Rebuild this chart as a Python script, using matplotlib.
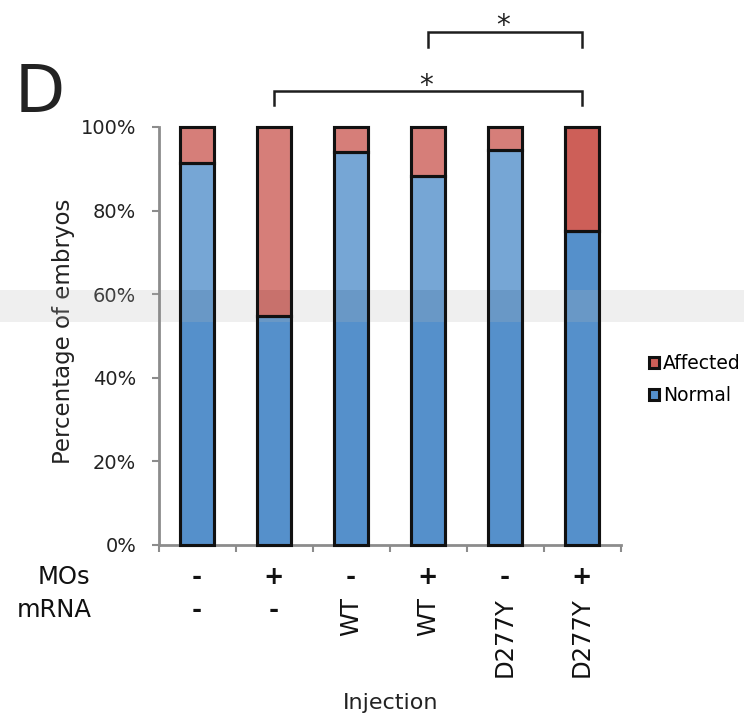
import matplotlib
matplotlib.use('Agg')
import matplotlib.pyplot as plt
from matplotlib.patches import Rectangle
from matplotlib.transforms import blended_transform_factory
import numpy as np

# ---- data ----
categories = ['1', '2', '3', '4', '5', '6']
mos = ['-', '+', '-', '+', '-', '+']
mrna = ['-', '-', 'WT', 'WT', 'D277Y', 'D277Y']
normal = [91.3, 54.8, 94.0, 88.3, 94.6, 75.2]
affected = [8.7, 45.2, 6.0, 11.7, 5.4, 24.8]
yticks = [0, 20, 40, 60, 80, 100]
sig_pairs = [(1, 5), (3, 5)]
sig_labels = ['*', '*']

W, H = 744, 720
fig = plt.figure(figsize=(W / 100, H / 100), dpi=100)


def fx(p):
    return p / W


def fy(p):
    return 1 - p / H


ax = fig.add_axes([fx(158.5), fy(545), (620.5 - 158.5) / W, (545 - 127) / H])
ax.patch.set_visible(False)

blue = '#5590cb'
red = '#cd5f58'
x = np.arange(len(categories))
h_norm = ax.bar(x, normal, width=0.43, color=blue, edgecolor='#111111',
                linewidth=2.2, label='Normal', zorder=2, clip_on=False)
h_aff = ax.bar(x, affected, bottom=normal, width=0.43, color=red,
               edgecolor='#111111', linewidth=2.2, label='Affected', zorder=2,
               clip_on=False)
# crisp outlines drawn above the faint watermark shading
ax.bar(x, normal, width=0.43, facecolor='none', edgecolor='#111111',
       linewidth=2.2, zorder=2.6, clip_on=False)
ax.bar(x, affected, bottom=normal, width=0.43, facecolor='none',
       edgecolor='#111111', linewidth=2.2, zorder=2.6, clip_on=False)

ax.set_xlim(-0.5, len(categories) - 0.5)
ax.set_ylim(0, 100)

for s in ['top', 'right']:
    ax.spines[s].set_visible(False)
for s in ['left', 'bottom']:
    ax.spines[s].set_color('#8c8c8c')
    ax.spines[s].set_linewidth(2)

ax.set_yticks(yticks)
ax.set_yticklabels([f'{v}%' for v in yticks])
ax.tick_params(axis='y', length=5, width=1.5, color='#8c8c8c', pad=11,
               labelsize=14, labelcolor='#222222')
ax.set_xticks([])
ax.set_xticks(np.arange(-0.5, len(categories), 1), minor=True)
ax.tick_params(axis='x', which='minor', length=5, width=1.5, color='#8c8c8c',
               labelbottom=False)

ax.set_ylabel('Percentage of embryos', fontsize=16.5, color='#222222')
ax.yaxis.label.set(ha='center', va='center')
ax.yaxis.set_label_coords((64 - 158.5) / 462, (545 - 331) / 418)

# condition rows
trans = blended_transform_factory(ax.transData, fig.transFigure)
for i in range(len(categories)):
    ax.text(i, fy(577), mos[i], transform=trans, ha='center', va='center',
            fontsize=17.5, fontweight='bold', color='#111111', clip_on=False)
    if mrna[i] == '-':
        ax.text(i, fy(610), mrna[i], transform=trans, ha='center', va='center',
                fontsize=17.5, fontweight='bold', color='#111111', clip_on=False)
    else:
        ax.text(i, fy(597), mrna[i], transform=trans, ha='center', va='top',
                rotation=90, fontsize=17.5, color='#111111', clip_on=False)

fig.text(fx(90), fy(577), 'MOs', ha='right', va='center', fontsize=17.5,
         color='#111111')
fig.text(fx(92), fy(610), 'mRNA', ha='right', va='center', fontsize=17.5,
         color='#111111')
fig.text(fx(391), fy(703), 'Injection', ha='center', va='center', fontsize=16,
         color='#222222')
fig.text(fx(15), fy(112), 'D', ha='left', va='baseline', fontsize=47,
         color='#222222')

# significance brackets
levels = [(108.6, 105.3), (122.7, 119.1)]
star_y = [109.8, 124.2]
for (a, b), (yh, yl), lab, sy in zip(sig_pairs, levels, sig_labels, star_y):
    ax.plot([a, a, b, b], [yl, yh, yh, yl], color='#1e1e1e', lw=1.8,
            clip_on=False, zorder=4, solid_joinstyle='miter')
    ax.text((a + b) / 2 - 0.03, sy, lab, ha='center', va='center', fontsize=20,
            color='#222222', clip_on=False, zorder=4)

# legend
fig.legend(handles=[h_aff, h_norm], labels=['Affected', 'Normal'],
           loc='upper left', bbox_to_anchor=(fx(649), fy(354)), frameon=False,
           fontsize=13.5, handlelength=0.55, handleheight=0.55,
           handletextpad=0.2, labelspacing=0.7, borderpad=0,
           borderaxespad=0)

# faint watermark shading (non-text)
ax.add_patch(Rectangle((fx(160), fy(290)), fx(557 - 160), 290 / H,
                       transform=fig.transFigure, facecolor='white',
                       alpha=0.2, edgecolor='none', zorder=2.3, clip_on=False))
ax.add_patch(Rectangle((0, fy(322)), 1, 32 / H, transform=fig.transFigure,
                       facecolor='#b8b8b8', alpha=0.21, edgecolor='none',
                       zorder=2.3, clip_on=False))

fig.savefig('out.png', dpi=100)
